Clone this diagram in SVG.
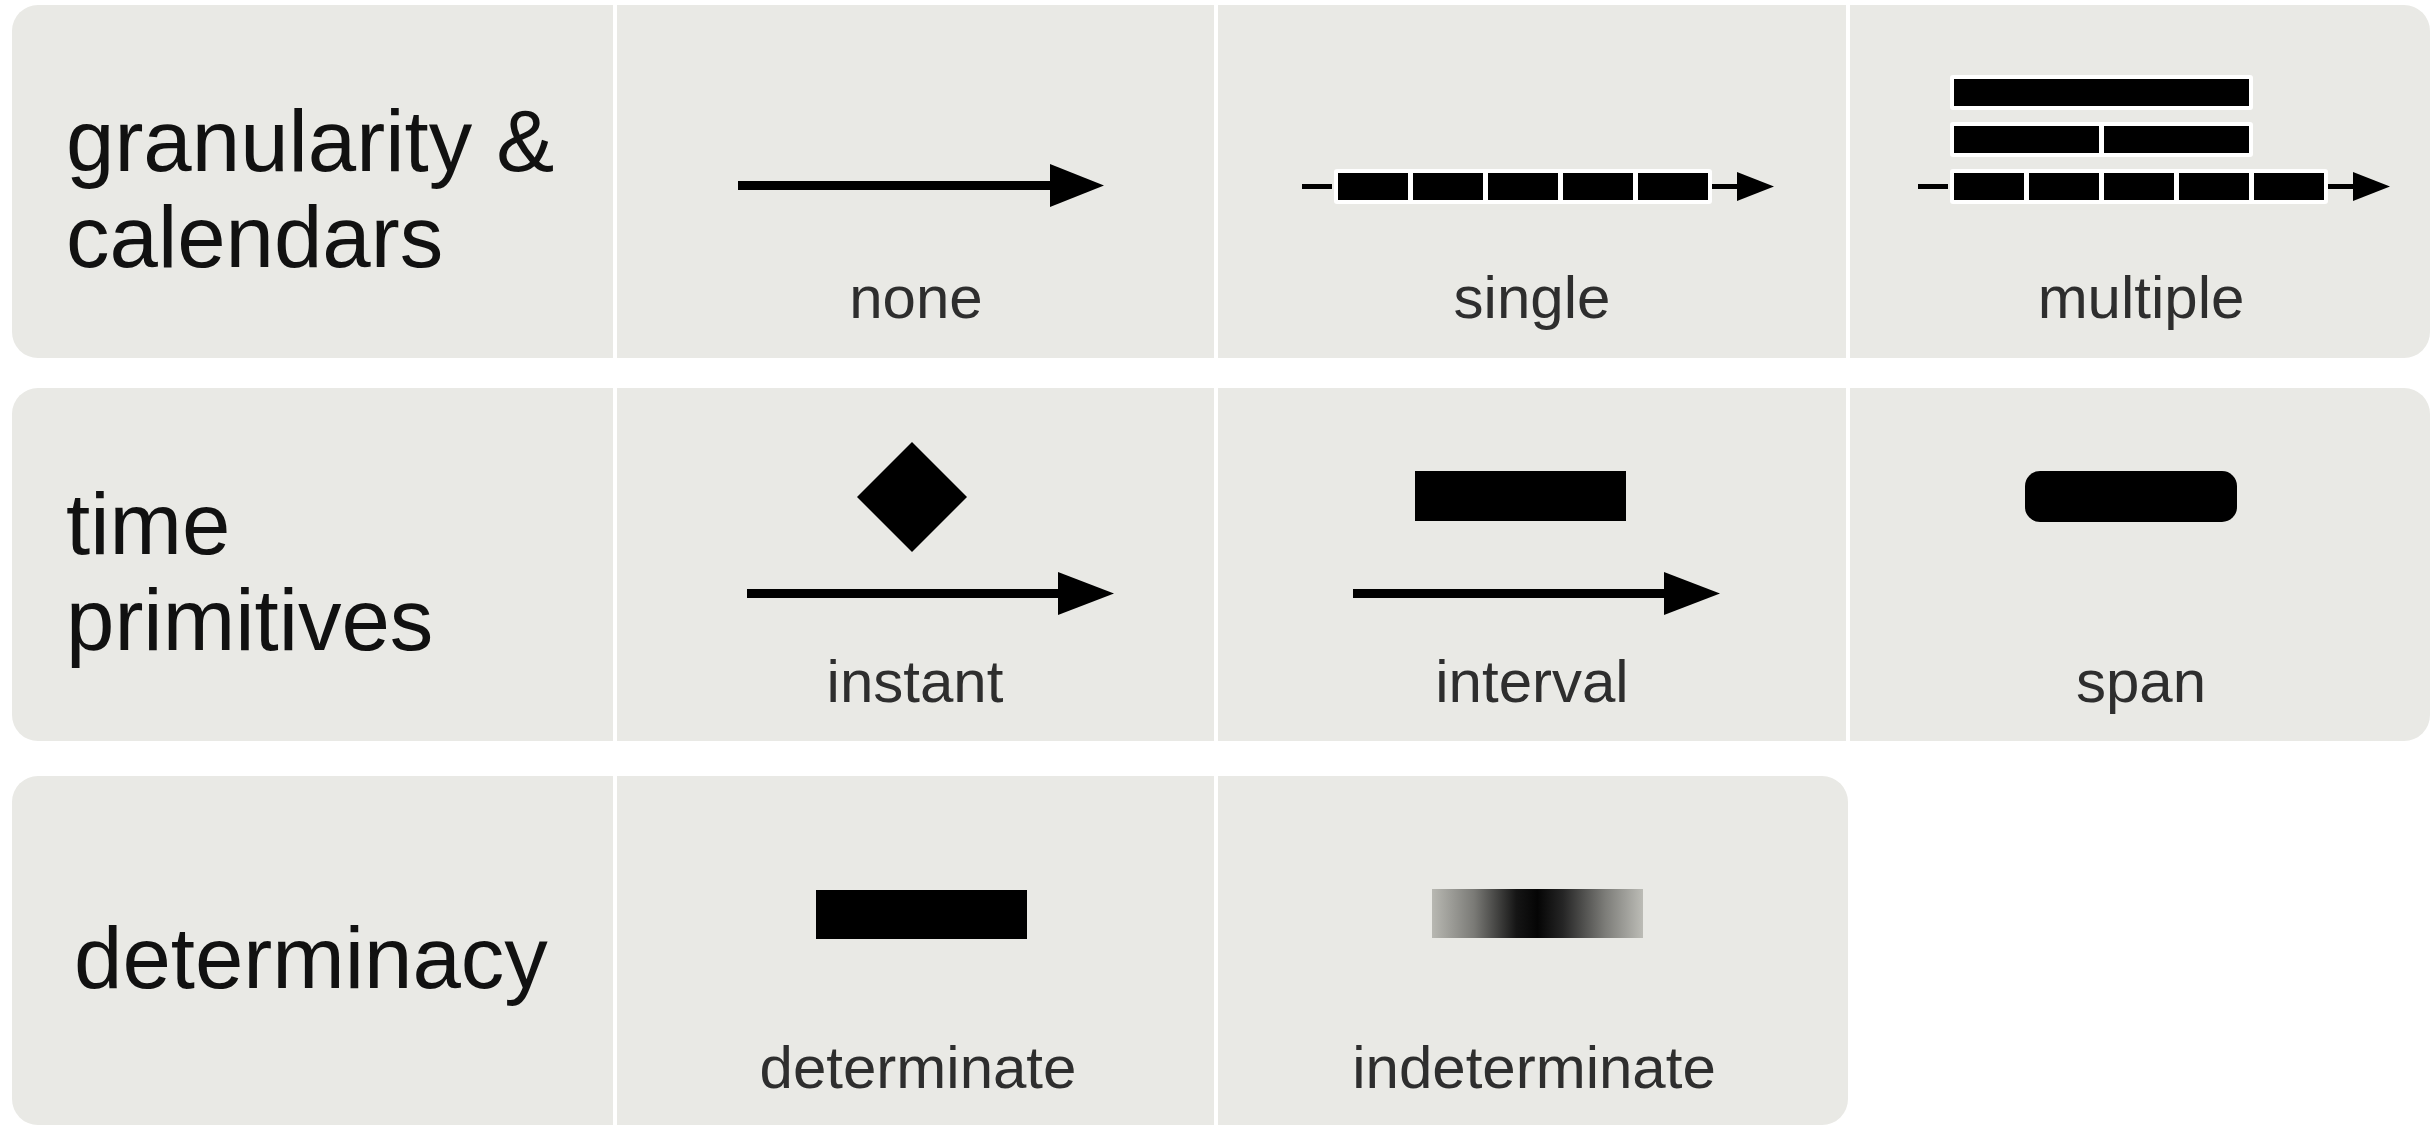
<svg xmlns="http://www.w3.org/2000/svg" width="2435" height="1127" viewBox="0 0 2435 1127">
<style>
.panel{fill:#e9e9e5}
.div{fill:#ffffff}
.title{font-family:"Liberation Sans",Arial,Helvetica,sans-serif;font-size:87px;fill:#111}
.lab{font-family:"Liberation Sans",Arial,Helvetica,sans-serif;font-size:60px;fill:#2e2e2e;text-anchor:middle}
.blk{fill:#000}
.wht{fill:#fff}
.ax{stroke:#000;stroke-width:9;fill:none}
.axs{stroke:#000;stroke-width:5;fill:none}
.hd{fill:#000}
</style>
<defs>
<linearGradient id="fuzzy" x1="0" y1="0" x2="1" y2="0">
<stop offset="0" stop-color="#b8b8b2"/>
<stop offset="0.2" stop-color="#7a7a76"/>
<stop offset="0.4" stop-color="#151515"/>
<stop offset="0.5" stop-color="#050505"/>
<stop offset="0.62" stop-color="#252525"/>
<stop offset="0.82" stop-color="#7c7c78"/>
<stop offset="1" stop-color="#bcbcb6"/>
</linearGradient>
</defs>
<rect width="2435" height="1127" fill="#fff"/>
<g id="panels">
<rect class="panel" x="12" y="5" width="2418" height="353" rx="26"/>
<rect class="panel" x="12" y="388" width="2418" height="353" rx="26"/>
<rect class="panel" x="12" y="776" width="1836" height="349" rx="26"/>
<rect class="div" x="613" y="5" width="4" height="353"/>
<rect class="div" x="1214" y="5" width="4" height="353"/>
<rect class="div" x="1846" y="5" width="4" height="353"/>
<rect class="div" x="613" y="388" width="4" height="353"/>
<rect class="div" x="1214" y="388" width="4" height="353"/>
<rect class="div" x="1846" y="388" width="4" height="353"/>
<rect class="div" x="613" y="776" width="4" height="351"/>
<rect class="div" x="1214" y="776" width="4" height="351"/>
</g>
<g id="title-granularity">
<text class="title" x="66" y="171">granularity &amp;</text>
<text class="title" x="66" y="267">calendars</text>
</g>
<g id="title-time">
<text class="title" x="66" y="554">time</text>
<text class="title" x="66" y="650">primitives</text>
</g>
<g id="title-determinacy">
<text class="title" x="74" y="988">determinacy</text>
</g>
<g id="none">
<line class="ax" x1="738" y1="185.5" x2="1054" y2="185.5"/>
<polygon class="hd" points="1050,164 1104,185.5 1050,207"/>
<text class="lab" x="916" y="318">none</text>
</g>
<g id="single">
<line class="axs" x1="1302" y1="186.5" x2="1332" y2="186.5"/>
<rect class="wht" x="1334" y="169" width="378" height="35" rx="3"/>
<rect class="blk" x="1338" y="173" width="70" height="27"/>
<rect class="blk" x="1413" y="173" width="70" height="27"/>
<rect class="blk" x="1488" y="173" width="70" height="27"/>
<rect class="blk" x="1563" y="173" width="70" height="27"/>
<rect class="blk" x="1638" y="173" width="70" height="27"/>
<line class="axs" x1="1712" y1="186.5" x2="1740" y2="186.5"/>
<polygon class="hd" points="1737,172 1774,186.5 1737,201"/>
<text class="lab" x="1532" y="318">single</text>
</g>
<g id="multiple">
<rect class="wht" x="1950" y="75" width="303" height="35" rx="3"/>
<rect class="blk" x="1954" y="79" width="295" height="27"/>
<rect class="wht" x="1950" y="122" width="303" height="35" rx="3"/>
<rect class="blk" x="1954" y="126" width="145" height="27"/>
<rect class="blk" x="2104" y="126" width="145" height="27"/>
<line class="axs" x1="1918" y1="186.5" x2="1948" y2="186.5"/>
<rect class="wht" x="1950" y="169" width="378" height="35" rx="3"/>
<rect class="blk" x="1954" y="173" width="70" height="27"/>
<rect class="blk" x="2029" y="173" width="70" height="27"/>
<rect class="blk" x="2104" y="173" width="70" height="27"/>
<rect class="blk" x="2179" y="173" width="70" height="27"/>
<rect class="blk" x="2254" y="173" width="70" height="27"/>
<line class="axs" x1="2328" y1="186.5" x2="2356" y2="186.5"/>
<polygon class="hd" points="2353,172 2390,186.5 2353,201"/>
<text class="lab" x="2141" y="318">multiple</text>
</g>
<g id="instant">
<polygon class="blk" points="912,442 967,497 912,552 857,497"/>
<line class="ax" x1="747" y1="593.5" x2="1062" y2="593.5"/>
<polygon class="hd" points="1058,572 1114,593.5 1058,615"/>
<text class="lab" x="915" y="702">instant</text>
</g>
<g id="interval">
<rect class="blk" x="1415" y="471" width="211" height="50"/>
<line class="ax" x1="1353" y1="593.5" x2="1668" y2="593.5"/>
<polygon class="hd" points="1664,572 1720,593.5 1664,615"/>
<text class="lab" x="1532" y="702">interval</text>
</g>
<g id="span">
<rect class="blk" x="2025" y="471" width="212" height="51" rx="15"/>
<text class="lab" x="2141" y="702">span</text>
</g>
<g id="determinate">
<rect class="blk" x="816" y="890" width="211" height="49"/>
<text class="lab" x="918" y="1088">determinate</text>
</g>
<g id="indeterminate">
<rect x="1432" y="889" width="211" height="49" fill="url(#fuzzy)"/>
<text class="lab" x="1534" y="1088">indeterminate</text>
</g>
<g id="connectors"></g>
</svg>
